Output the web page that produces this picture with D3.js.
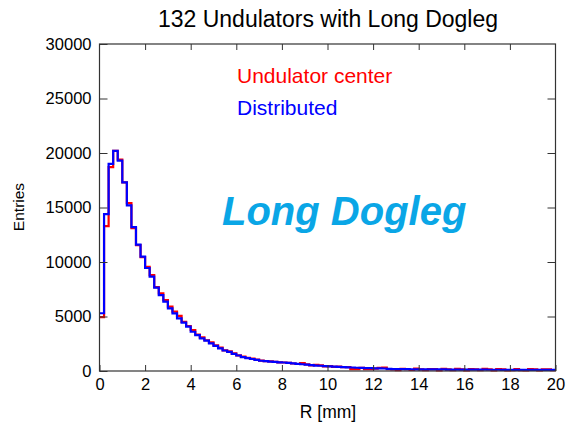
<!DOCTYPE html>
<html>
<head>
<meta charset="utf-8">
<script src="https://cdn.jsdelivr.net/npm/d3@7"></script>
<style>
  body { margin: 0; background: #fff; }
  text { font-family: "Liberation Sans", Arial, sans-serif; }
</style>
</head>
<body>
<svg></svg>
<script>
let width = 566;
let height = 425;

// bin width 0.2 mm, 100 bins from 0 to 20 mm
let binWidth = 0.2;

// "Undulator center" (red)
let centerCounts = [
  4950, 13300, 18700, 20200, 19400, 17300, 15400, 13100, 11550, 10450,
  9550, 8800, 7700, 7130, 6500, 5900, 5450, 5050, 4500, 4130,
  3760, 3350, 3080, 2820, 2620, 2350, 2150, 1900, 1800, 1620,
  1440, 1320, 1200, 1130, 1040, 960, 900, 880, 830, 800,
  780, 740, 690, 640, 720, 600, 520, 560, 520, 430,
  450, 380, 400, 360, 350, 180, 170, 300, 160, 170,
  220, 300, 310, 170, 150, 80, 200, 160, 90, 210,
  150, 70, 180, 170, 60, 190, 140, 70, 200, 150,
  60, 180, 160, 70, 190, 140, 60, 170, 150, 60,
  80, 180, 70, 60, 170, 150, 60, 140, 160, 70
];

// "Distributed" (blue)
let distCounts = [
  5300, 14400, 19000, 20200, 19300, 17300, 15200, 13200, 11600, 10500,
  9450, 8650, 7650, 6970, 6360, 5750, 5290, 4830, 4430, 4070,
  3600, 3300, 3000, 2780, 2540, 2300, 2080, 1880, 1750, 1580,
  1420, 1280, 1180, 1100, 1020, 940, 900, 860, 830, 800,
  780, 740, 700, 650, 620, 580, 540, 500, 480, 450,
  420, 400, 370, 350, 340, 320, 300, 290, 270, 260,
  250, 240, 230, 200, 180, 175, 170, 165, 160, 155,
  150, 150, 145, 145, 140, 140, 135, 135, 130, 130,
  125, 125, 120, 120, 120, 115, 115, 115, 110, 110,
  110, 105, 105, 105, 100, 100, 100, 100, 95, 95
];

let xTicks = [0, 2, 4, 6, 8, 10, 12, 14, 16, 18, 20];
let yTicks = [0, 5000, 10000, 15000, 20000, 25000, 30000];

let series = [
  {label: "Undulator center", colour: "#ff0000", counts: centerCounts},
  {label: "Distributed", colour: "#0000ff", counts: distCounts}
];

let margin = {left: 99.5, right: 10.5, top: 44, bottom: 54};

window.onload = function() {

  let svg = d3.select("svg")
    .attr("width", width)
    .attr("height", height);

  let x = d3.scaleLinear().domain([0, 20]).range([margin.left, width - margin.right]);
  let y = d3.scaleLinear().domain([0, 30000]).range([height - margin.bottom, margin.top]);

  // histogram steps
  let line = d3.line()
    .x(d => x(d[0]))
    .y(d => y(d[1]))
    .curve(d3.curveStepAfter);

  series.forEach(s => {
    let pts = s.counts.map((c, i) => [i * binWidth, c]);
    pts.push([s.counts.length * binWidth, s.counts[s.counts.length - 1]]);
    svg.append("path")
      .attr("d", line(pts))
      .attr("fill", "none")
      .attr("stroke", s.colour)
      .attr("stroke-width", 2.2);
  });

  // frame
  svg.append("rect")
    .attr("x", x(0))
    .attr("y", y(30000))
    .attr("width", x(20) - x(0))
    .attr("height", y(0) - y(30000))
    .attr("fill", "none")
    .attr("stroke", "#333")
    .attr("stroke-width", 1.2);

  // ticks, pointing inward
  let bottomAxis = d3.axisBottom(x).tickValues(xTicks).tickSize(-6).tickFormat(d3.format("d")).tickPadding(7);
  let gx = svg.append("g").attr("transform", "translate(0," + y(0) + ")").call(bottomAxis);
  gx.select(".domain").remove();
  gx.selectAll("text").attr("font-size", "16.5px").attr("font-family", "Liberation Sans, Arial").attr("fill", "#000");

  let topAxis = d3.axisTop(x).tickValues(xTicks.slice(1, -1)).tickSize(-6).tickFormat("");
  let gt = svg.append("g").attr("transform", "translate(0," + y(30000) + ")").call(topAxis);
  gt.select(".domain").remove();

  let leftAxis = d3.axisLeft(y).tickValues(yTicks).tickSize(-8).tickFormat(d3.format("d")).tickPadding(8);
  let gy = svg.append("g").attr("transform", "translate(" + x(0) + ",0)").call(leftAxis);
  gy.select(".domain").remove();
  gy.selectAll("text").attr("font-size", "16.5px").attr("font-family", "Liberation Sans, Arial").attr("fill", "#000");

  let rightAxis = d3.axisRight(y).tickValues(yTicks.slice(1, -1)).tickSize(-8).tickFormat("");
  let gr = svg.append("g").attr("transform", "translate(" + x(20) + ",0)").call(rightAxis);
  gr.select(".domain").remove();

  svg.selectAll(".tick line").attr("stroke", "#333");

  // title and axis labels
  svg.append("text")
    .attr("x", 328)
    .attr("y", 27)
    .attr("text-anchor", "middle")
    .attr("font-size", "23px")
    .text("132 Undulators with Long Dogleg");

  svg.append("text")
    .attr("x", 328)
    .attr("y", 418)
    .attr("text-anchor", "middle")
    .attr("font-size", "17.5px")
    .text("R [mm]");

  svg.append("text")
    .attr("transform", "translate(24,207) rotate(-90)")
    .attr("text-anchor", "middle")
    .attr("font-size", "15.5px")
    .text("Entries");

  // legend
  svg.selectAll(".legend")
    .data(series)
    .enter()
    .append("text")
      .attr("class", "legend")
      .attr("x", 237)
      .attr("y", (d, i) => 83 + i * 32)
      .attr("font-size", "21px")
      .attr("fill", d => d.colour)
      .text(d => d.label);

  svg.append("text")
    .attr("x", 222)
    .attr("y", 225)
    .attr("font-size", "40px")
    .attr("font-family", "Open Sans, DejaVu Sans")
    .attr("font-weight", "bold")
    .attr("font-style", "italic")
    .attr("fill", "#0aa6e6")
    .text("Long Dogleg");
};
</script>
</body>
</html>
